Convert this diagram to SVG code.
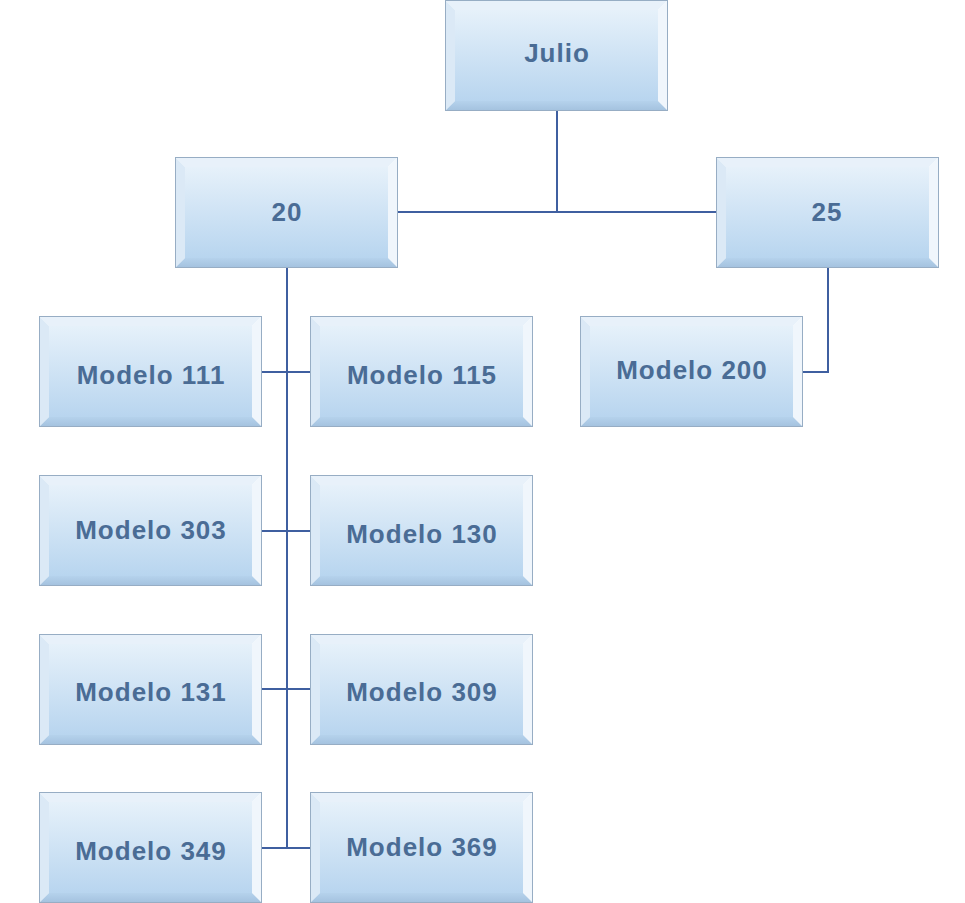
<svg xmlns="http://www.w3.org/2000/svg" xmlns:xlink="http://www.w3.org/1999/xlink" width="965" height="903" viewBox="0 0 965 903">
<style>
.lbl{font-family:"Liberation Sans",Arial,sans-serif;font-weight:bold;font-size:26px;fill:#4a6c95;text-anchor:middle;letter-spacing:1px}
.conn{stroke:#3f5fa0;stroke-width:2;fill:none}
</style>
<defs>
<linearGradient id="face" x1="0" y1="0" x2="0" y2="1">
<stop offset="0" stop-color="#e6f1fa"/>
<stop offset="1" stop-color="#b8d5ef"/>
</linearGradient>
<linearGradient id="bot" x1="0" y1="0" x2="0" y2="1">
<stop offset="0" stop-color="#b5d2ec"/>
<stop offset="1" stop-color="#a3c1de"/>
</linearGradient>
<g id="box">
<rect x="10" y="10" width="203" height="91" fill="url(#face)"/>
<polygon points="0,0 223,0 213,10 10,10" fill="#e8f1fa"/>
<polygon points="0,0 10,10 10,101 0,111" fill="#dbe9f6"/>
<polygon points="223,0 223,111 213,101 213,10" fill="#f0f6fc"/>
<polygon points="0,111 10,101 213,101 223,111" fill="url(#bot)"/>
<rect x="0.5" y="0.5" width="222" height="110" fill="none" stroke="#97adc4" stroke-width="1"/>
</g>
</defs>
<rect width="965" height="903" fill="#ffffff"/>
<g id="connectors">
<path class="conn" d="M557,109 V212 M398,212 H716"/>
<path class="conn" d="M287,268 V848"/>
<path class="conn" d="M262,372 H310 M262,531 H310 M262,689 H310 M262,848 H310"/>
<path class="conn" d="M828,268 V372 H803"/>
</g>
<g id="n-julio"><use xlink:href="#box" x="445" y="0"/><text class="lbl" x="557" y="62">Julio</text></g>
<g id="n-20"><use xlink:href="#box" x="175" y="157"/><text class="lbl" x="287" y="221">20</text></g>
<g id="n-25"><use xlink:href="#box" x="716" y="157"/><text class="lbl" x="827" y="221">25</text></g>
<g id="n-111"><use xlink:href="#box" x="39" y="316"/><text class="lbl" x="151" y="384">Modelo 111</text></g>
<g id="n-115"><use xlink:href="#box" x="310" y="316"/><text class="lbl" x="422" y="384">Modelo 115</text></g>
<g id="n-200"><use xlink:href="#box" x="580" y="316"/><text class="lbl" x="692" y="379">Modelo 200</text></g>
<g id="n-303"><use xlink:href="#box" x="39" y="475"/><text class="lbl" x="151" y="539">Modelo 303</text></g>
<g id="n-130"><use xlink:href="#box" x="310" y="475"/><text class="lbl" x="422" y="543">Modelo 130</text></g>
<g id="n-131"><use xlink:href="#box" x="39" y="634"/><text class="lbl" x="151" y="701">Modelo 131</text></g>
<g id="n-309"><use xlink:href="#box" x="310" y="634"/><text class="lbl" x="422" y="701">Modelo 309</text></g>
<g id="n-349"><use xlink:href="#box" x="39" y="792"/><text class="lbl" x="151" y="860">Modelo 349</text></g>
<g id="n-369"><use xlink:href="#box" x="310" y="792"/><text class="lbl" x="422" y="856">Modelo 369</text></g>
</svg>
